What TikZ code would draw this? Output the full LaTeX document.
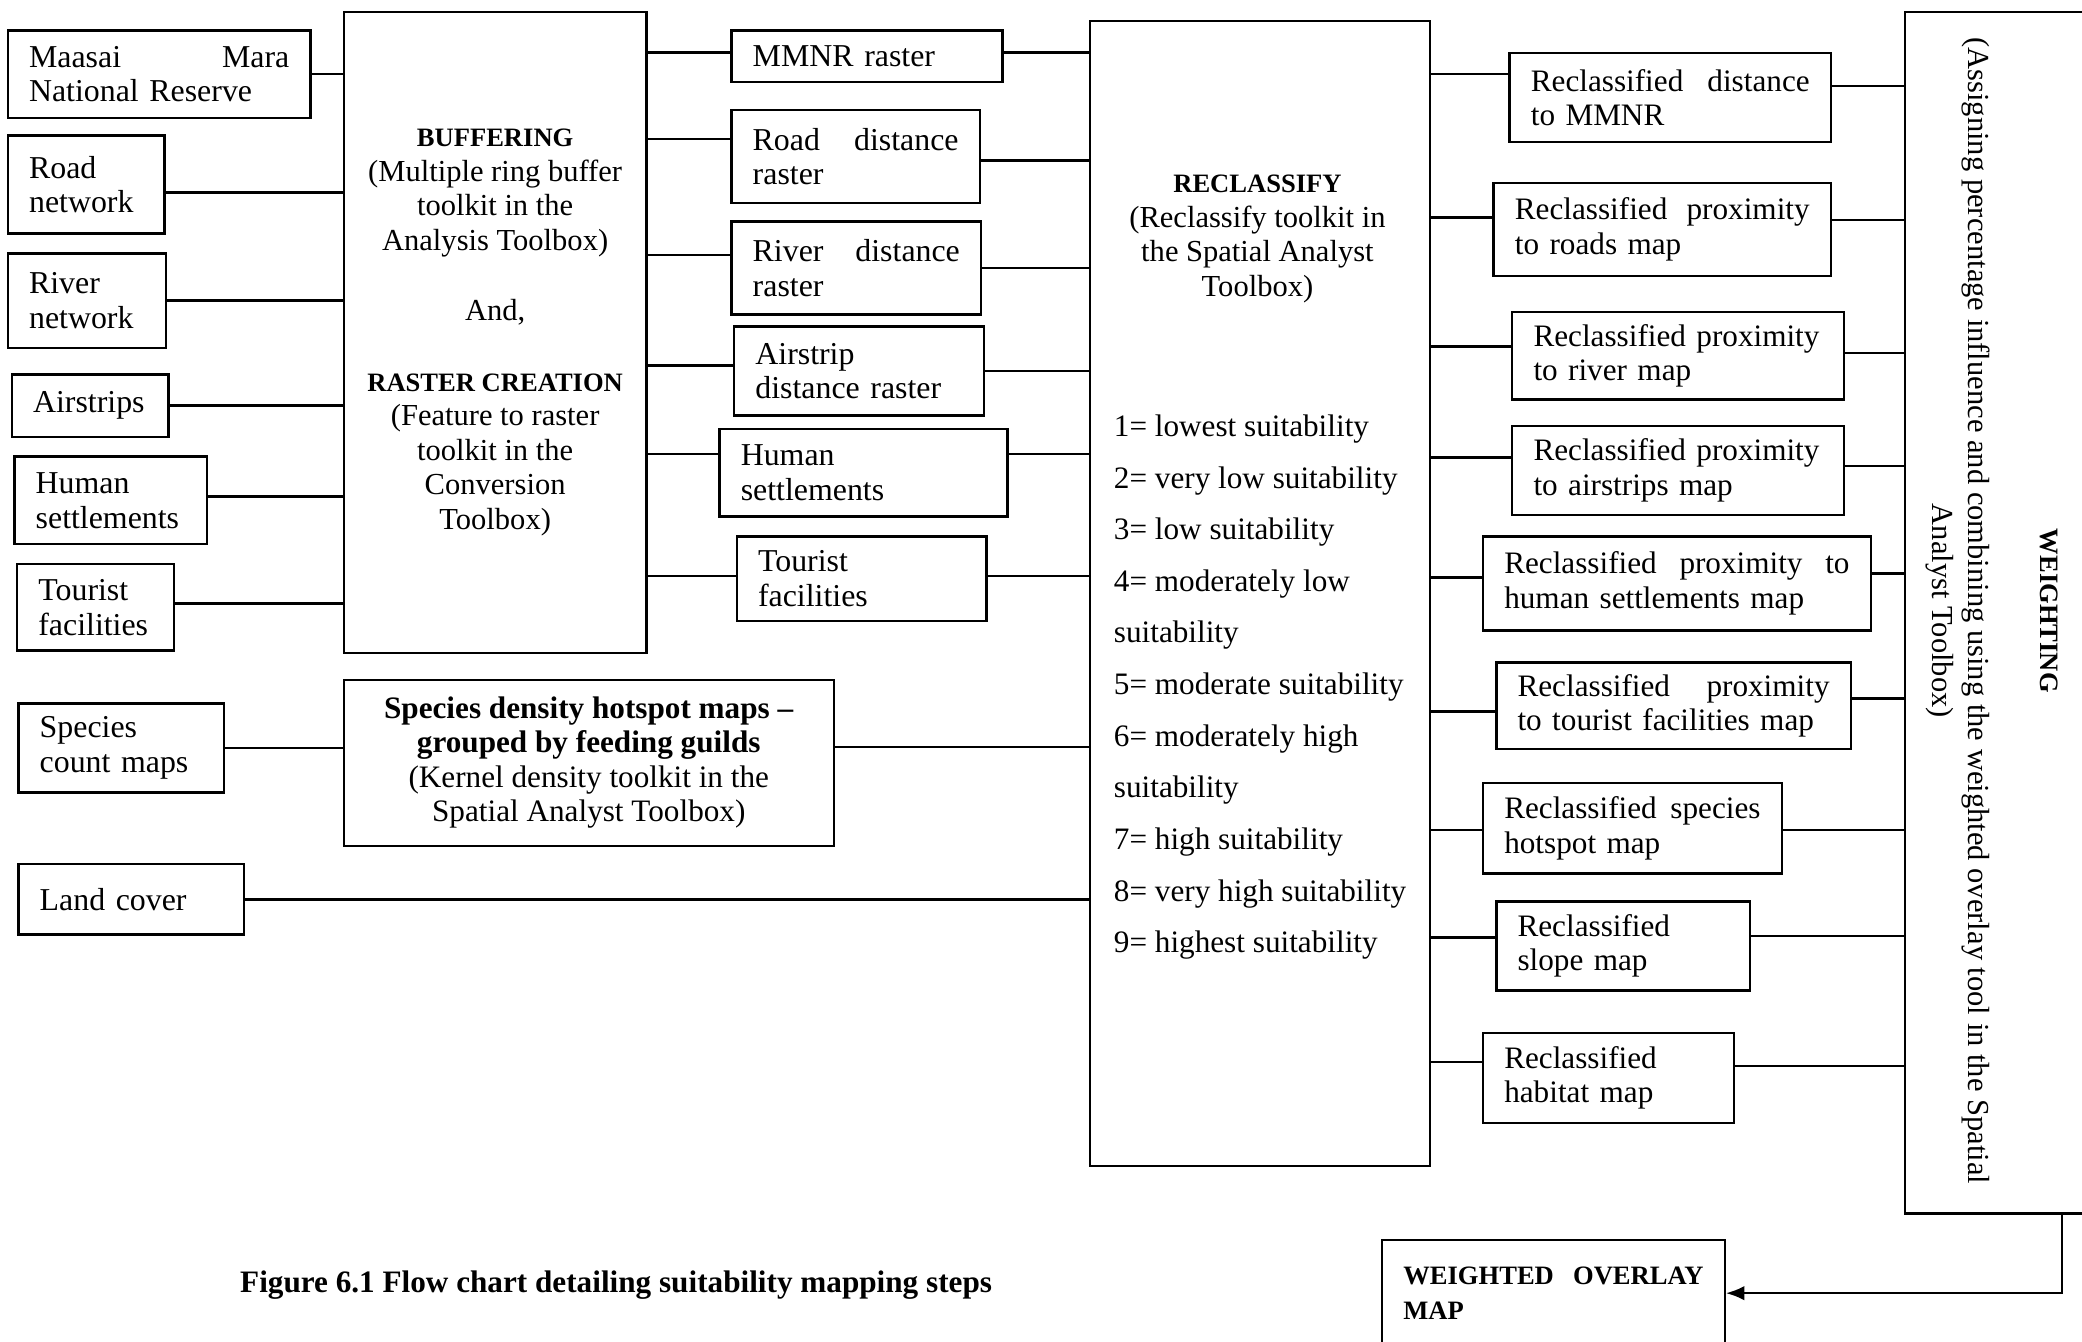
\documentclass[tikz,border=0pt]{standalone}
\usepackage{fontspec}
\setmainfont{Liberation Serif}
\usepackage{tikz}
\usetikzlibrary{calc,arrows.meta}

\tikzset{
  mapbox/.style={draw, anchor=north west, align=left, inner xsep=16pt, inner ysep=0pt,
    font=\fontsize{24}{26}\selectfont},
  outbox/.style={mapbox, font=\fontsize{23.5}{26}\selectfont},
  toolbox/.style={draw, anchor=north west, align=center, inner sep=0pt,
    font=\fontsize{23}{26}\selectfont},
}
\newcommand{\capsb}[1]{{\fontsize{20}{26}\selectfont\bfseries #1}}
\newcommand{\spread}[1]{\hbox to\hsize{#1}}

\begin{document}
\begin{tikzpicture}[x=1pt,y=1pt,yscale=-1,xscale=1,line width=1.8pt]
    \useasboundingbox (0,0) rectangle (1568,1010);
    % Input layers
    \node [mapbox, text width=196, minimum height=66] (mmnr) at (5,22) {\spread{Maasai\hfill Mara}\\National Reserve};
    \node [mapbox, text width=86, minimum height=74] (road) at (5,101) {Road\\network};
    \node [mapbox, text width=87, minimum height=71] (river) at (5,190) {River\\network};
    \node [mapbox, text width=86, minimum height=47] (airs) at (8,281) {Airstrips};
    \node [mapbox, text width=113, minimum height=66] (human) at (10,343) {Human\\settlements};
    \node [mapbox, text width=86, minimum height=65] (tour) at (12,424) {Tourist\\facilities};
    \node [mapbox, text width=123, minimum height=67] (spcount) at (13,529) {Species\\count maps};
    \node [mapbox, text width=138, minimum height=53] (land) at (13,650) {Land cover};
    % Buffering and raster creation
    \node [toolbox, minimum width=228, minimum height=483] (buf) at (258,8)
      {\capsb{BUFFERING}\\(Multiple ring buffer\\toolkit in the\\Analysis Toolbox)\\[27pt]
       And,\\[27pt]\capsb{RASTER CREATION}\\(Feature to raster\\toolkit in the\\Conversion\\Toolbox)};
    % Kernel density
    \node [toolbox, minimum width=369, minimum height=125, font=\fontsize{23.5}{26}\selectfont] (spd) at (258,511)
      {\textbf{Species density hotspot maps –}\\\textbf{grouped by feeding guilds}\\(Kernel density toolkit in the\\Spatial Analyst Toolbox)};
    % Distance rasters
    \node [mapbox, text width=172, minimum height=39] (mmnrr) at (550,22) {MMNR raster};
    \node [mapbox, text width=155, minimum height=70] (roadr) at (550,82) {\spread{Road\hfill distance}\\raster};
    \node [mapbox, text width=156, minimum height=70] (riverr) at (550,166) {\spread{River\hfill distance}\\raster};
    \node [mapbox, text width=156, minimum height=67] (airr) at (552,245) {Airstrip\\distance raster};
    \node [mapbox, text width=185, minimum height=66] (humanr) at (541,322) {Human\\settlements};
    \node [mapbox, text width=156, minimum height=64] (tourr) at (554,403) {Tourist\\facilities};
    % Reclassify
    \node [draw, anchor=north west, minimum width=256, minimum height=862, inner sep=0pt] (reclass) at (820,15) {};
    \node [align=center, inner sep=0pt, font=\fontsize{23}{26}\selectfont] (rctool) at (947,180)
      {\capsb{RECLASSIFY}\\(Reclassify toolkit in\\the Spatial Analyst\\Toolbox)};
    \node [align=left, anchor=west, inner sep=0pt, font=\fontsize{23.5}{38.9}\selectfont] (rcscale) at (838,517.5)
      {1= lowest suitability\\2= very low suitability\\3= low suitability\\4= moderately low\\suitability\\
       5= moderate suitability\\6= moderately high\\suitability\\7= high suitability\\
       8= very high suitability\\9= highest suitability};
    % Reclassified maps
    \node [outbox, text width=210, minimum height=67] (r1) at (1136,39) {\spread{Reclassified\hfill distance}\\to MMNR};
    \node [outbox, text width=222, minimum height=70] (r2) at (1124,137) {\spread{Reclassified\hfill proximity}\\to roads map};
    \node [outbox, text width=218, minimum height=66] (r3) at (1138,234) {Reclassified proximity\\to river map};
    \node [outbox, text width=218, minimum height=67] (r4) at (1138,320) {Reclassified proximity\\to airstrips map};
    \node [outbox, text width=260, minimum height=71] (r5) at (1116,403) {\spread{Reclassified\hfill proximity\hfill to}\\human settlements map};
    \node [outbox, text width=235, minimum height=65] (r6) at (1126,498) {\spread{Reclassified\hfill proximity}\\to tourist facilities map};
    \node [outbox, text width=193, minimum height=68] (r7) at (1116,589) {\spread{Reclassified\hfill species}\\hotspot map};
    \node [outbox, text width=159, minimum height=67] (r8) at (1126,678) {Reclassified\\slope map};
    \node [outbox, text width=157, minimum height=68] (r9) at (1116,777) {Reclassified\\habitat map};
    % Weighting
    \node [draw, anchor=north west, minimum width=170, minimum height=905, inner sep=0pt] (wgt) at (1434,8) {};
    \node [rotate=-90, inner sep=0pt, font=\fontsize{20}{26}\selectfont\bfseries] (wtitle) at (1543,460) {WEIGHTING};
    \node [rotate=-90, align=center, inner sep=0pt, font=\fontsize{23}{27}\selectfont] (wnote) at (1474.5,460)
      {(Assigning percentage influence and combining using the weighted overlay tool in the Spatial\\Analyst Toolbox)};
    % Result
    \node [mapbox, text width=226, minimum height=80, font=\fontsize{20}{26}\selectfont\bfseries] (wom) at (1040,933)
      {\spread{WEIGHTED\hfill OVERLAY}\\MAP};
    % Text Node
    \node [anchor=west, inner sep=0pt, font=\fontsize{23.5}{26}\selectfont\bfseries] (cap) at (180,968)
      {Figure 6.1 Flow chart detailing suitability mapping steps};

    %Straight Lines: inputs to buffering
    \draw (mmnr.east) -- (mmnr.east -| buf.west);
    \draw ($(road.east)+(0,6)$) coordinate (p) -- (p -| buf.west);
    \draw (river.east) -- (river.east -| buf.west);
    \draw (airs.east) -- (airs.east -| buf.west);
    \draw ($(human.east)+(0,-3)$) coordinate (p) -- (p -| buf.west);
    \draw ($(tour.east)+(0,-3)$) coordinate (p) -- (p -| buf.west);
    \draw (spcount.east) -- (spcount.east -| spd.west);
    \draw (land.east) -- (land.east -| reclass.west);
    %Straight Lines: buffering to rasters
    \draw ($(mmnrr.west)+(0,-3)$) coordinate (p) -- (p -| buf.east);
    \draw ($(roadr.west)+(0,-13)$) coordinate (p) -- (p -| buf.east);
    \draw ($(riverr.west)+(0,-10)$) coordinate (p) -- (p -| buf.east);
    \draw ($(airr.west)+(0,-4)$) coordinate (p) -- (p -| buf.east);
    \draw ($(humanr.west)+(0,-14)$) coordinate (p) -- (p -| buf.east);
    \draw ($(tourr.west)+(0,-2)$) coordinate (p) -- (p -| buf.east);
    %Straight Lines: rasters to reclassify
    \draw ($(mmnrr.east)+(0,-3)$) coordinate (p) -- (p -| reclass.west);
    \draw ($(roadr.east)+(0,3)$) coordinate (p) -- (p -| reclass.west);
    \draw (riverr.east) -- (riverr.east -| reclass.west);
    \draw (airr.east) -- (airr.east -| reclass.west);
    \draw ($(humanr.east)+(0,-14)$) coordinate (p) -- (p -| reclass.west);
    \draw ($(tourr.east)+(0,-2)$) coordinate (p) -- (p -| reclass.west);
    \draw ($(spd.east)+(0,-12)$) coordinate (p) -- (p -| reclass.west);
    %Straight Lines: reclassify to reclassified maps
    \draw ($(r1.west)+(0,-17.5)$) coordinate (p) -- (p -| reclass.east);
    \draw ($(r2.west)+(0,-9)$) coordinate (p) -- (p -| reclass.east);
    \draw ($(r3.west)+(0,-7)$) coordinate (p) -- (p -| reclass.east);
    \draw ($(r4.west)+(0,-10)$) coordinate (p) -- (p -| reclass.east);
    \draw ($(r5.west)+(0,-4.5)$) coordinate (p) -- (p -| reclass.east);
    \draw ($(r6.west)+(0,4.5)$) coordinate (p) -- (p -| reclass.east);
    \draw ($(r7.west)+(0,1)$) coordinate (p) -- (p -| reclass.east);
    \draw ($(r8.west)+(0,-6.5)$) coordinate (p) -- (p -| reclass.east);
    \draw ($(r9.west)+(0,-12)$) coordinate (p) -- (p -| reclass.east);
    %Straight Lines: reclassified maps to weighting
    \draw ($(r1.east)+(0,-8.5)$) coordinate (p) -- (p -| wgt.west);
    \draw ($(r2.east)+(0,-7)$) coordinate (p) -- (p -| wgt.west);
    \draw ($(r3.east)+(0,-2)$) coordinate (p) -- (p -| wgt.west);
    \draw ($(r4.east)+(0,-3.5)$) coordinate (p) -- (p -| wgt.west);
    \draw ($(r5.east)+(0,-7.5)$) coordinate (p) -- (p -| wgt.west);
    \draw ($(r6.east)+(0,-5.5)$) coordinate (p) -- (p -| wgt.west);
    \draw ($(r7.east)+(0,1)$) coordinate (p) -- (p -| wgt.west);
    \draw ($(r8.east)+(0,-7.5)$) coordinate (p) -- (p -| wgt.west);
    \draw ($(r9.east)+(0,-9)$) coordinate (p) -- (p -| wgt.west);
    %Arrow: weighting to overlay map
    \draw [-{Latex[length=14pt,width=11pt]}] ($(wgt.south west)+(119,0)$) |- (wom.east);
\end{tikzpicture}
\end{document}
